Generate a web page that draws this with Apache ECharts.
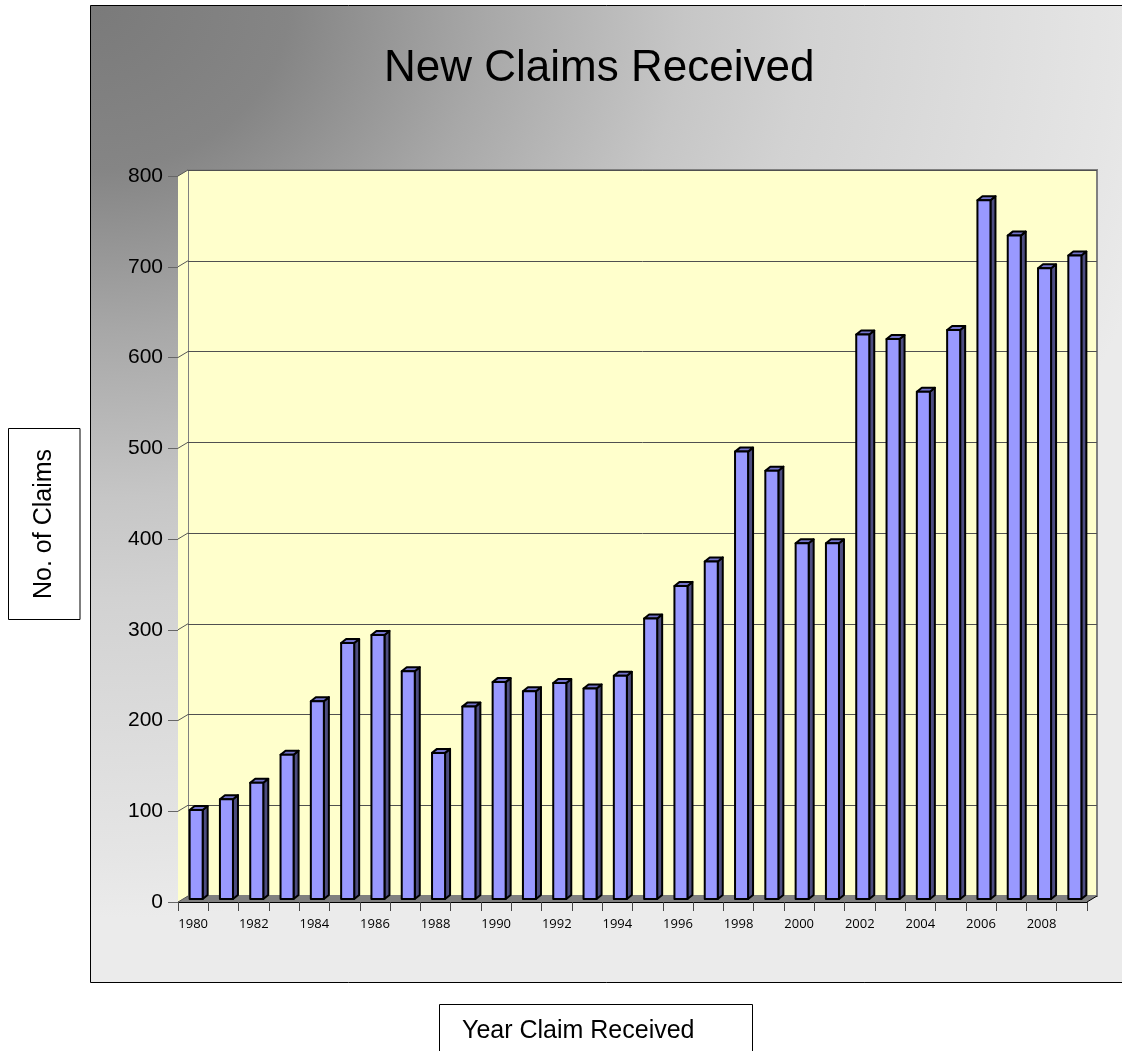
<!DOCTYPE html>
<html>
<head>
<meta charset="utf-8">
<title>New Claims Received</title>
<script src="https://cdn.jsdelivr.net/npm/echarts@6/dist/echarts.min.js"></script>
<style>
html, body { margin: 0; padding: 0; background: #fff; }
#chart { width: 1122px; height: 1051px; }
</style>
</head>
<body>
<div id="chart"></div>
<script>
// values
var years = ['1980', '1981', '1982', '1983', '1984', '1985', '1986', '1987', '1988', '1989',
             '1990', '1991', '1992', '1993', '1994', '1995', '1996', '1997', '1998', '1999',
             '2000', '2001', '2002', '2003', '2004', '2005', '2006', '2007', '2008', '2009'];
var claims = [98, 110, 128, 159, 218, 282, 291, 251, 161, 212,
              239, 229, 238, 232, 246, 309, 345, 372, 493, 472,
              392, 392, 622, 617, 559, 627, 770, 731, 695, 709];
var yTicks = [0, 100, 200, 300, 400, 500, 600, 700, 800];

// fake 3d (pixels)
var WALL_DX = 10, WALL_DY = -6;
var BAR_DX = 3, BAR_DY = -3, BAR_DEPTH_X = 5, BAR_DEPTH_Y = -4;
var BAR_RATIO = 0.43;

var chart = echarts.init(document.getElementById('chart'));

// side wall, floor and the little slanted tick lines
function frameItem(params, api) {
    var v = api.value(1);
    var half = api.size([1, 0])[0] / 2;
    var p = api.coord([0, v]);
    var xl = p[0] - half;
    var kids = [];
    if (params.dataIndex === 0) {
        var top = api.coord([0, yTicks[yTicks.length - 1]]);
        var xr = api.coord([years.length - 1, 0])[0] + half;
        kids.push({
            type: 'polygon',
            shape: { points: [[xl, top[1]], [xl + WALL_DX, top[1] + WALL_DY], [xl + WALL_DX, p[1] + WALL_DY], [xl, p[1]]] },
            style: { fill: '#ffffcc' }
        });
        kids.push({
            type: 'polygon',
            shape: { points: [[xl, p[1]], [xr, p[1]], [xr + WALL_DX, p[1] + WALL_DY], [xl + WALL_DX, p[1] + WALL_DY]] },
            style: { fill: '#808080' }
        });
        kids.push({
            type: 'line',
            shape: { x1: xr, y1: p[1], x2: xr + WALL_DX, y2: p[1] + WALL_DY },
            style: { stroke: '#000', lineWidth: 1 }
        });
    }
    kids.push({
        type: 'line',
        shape: { x1: xl, y1: p[1], x2: xl + WALL_DX, y2: p[1] + WALL_DY },
        style: { stroke: '#555', lineWidth: 1 }
    });
    return { type: 'group', children: kids };
}

function barItem(params, api) {
    var idx = api.value(0), v = api.value(1);
    var top = api.coord([idx, v]), base = api.coord([idx, 0]);
    var w = api.size([1, 0])[0] * BAR_RATIO;
    var x0 = top[0] - w / 2 + BAR_DX, x1 = x0 + w;
    var y0 = top[1] + BAR_DY, y1 = base[1] + BAR_DY;
    var dx = BAR_DEPTH_X, dy = BAR_DEPTH_Y;
    var edge = { stroke: '#000', lineWidth: 2, lineJoin: 'round' };
    return {
        type: 'group',
        children: [
            { type: 'polygon', shape: { points: [[x1, y0], [x1 + dx, y0 + dy], [x1 + dx, y1 + dy], [x1, y1]] },
              style: Object.assign({ fill: '#4d4d80' }, edge) },
            { type: 'polygon', shape: { points: [[x0, y0], [x1, y0], [x1 + dx, y0 + dy], [x0 + dx, y0 + dy]] },
              style: Object.assign({ fill: '#7373cc' }, edge) },
            { type: 'rect', shape: { x: x0, y: y0, width: w, height: y1 - y0 },
              style: Object.assign({ fill: '#9999ff' }, edge) }
        ]
    };
}

// background box: gradient from the top-left corner, a bit faster downwards
var BG_SCALE_Y = 0.83;

chart.setOption({
    backgroundColor: '#fff',
    animation: false,
    title: {
        text: 'New Claims Received',
        left: 384,
        top: 47,
        padding: 0,
        textStyle: { fontFamily: 'Liberation Sans', fontSize: 44, fontWeight: 'normal', color: '#000' }
    },
    graphic: [
        {
            type: 'rect', z: -100, x: 90.5, y: 5.5, scaleY: BG_SCALE_Y,
            shape: { x: 0, y: 0, width: 1100, height: 977 / BG_SCALE_Y },
            style: {
                fill: new echarts.graphic.RadialGradient(0, 0, 1100, [
                    { offset: 0, color: '#7a7a7a' },
                    { offset: 0.18, color: '#858585' },
                    { offset: 0.36, color: '#a8a8a8' },
                    { offset: 0.54, color: '#c6c6c6' },
                    { offset: 0.65, color: '#d2d2d2' },
                    { offset: 0.93, color: '#e5e5e5' },
                    { offset: 1, color: '#ebebeb' }
                ], true),
                stroke: null
            }
        },
        {
            type: 'rect', z: -99,
            shape: { x: 90.5, y: 5.5, width: 1100, height: 977 },
            style: { fill: null, stroke: '#000', lineWidth: 1 }
        },
        {
            type: 'rect', z: 100,
            shape: { x: 8.5, y: 428.5, width: 71.5, height: 191 },
            style: { fill: '#fff', stroke: '#000', lineWidth: 1 }
        },
        {
            type: 'text', z: 101, x: 44, y: 524, rotation: Math.PI / 2,
            style: { text: 'No. of Claims', fontFamily: 'Liberation Sans', fontSize: 25, fill: '#000',
                     align: 'center', verticalAlign: 'middle' }
        },
        {
            type: 'rect', z: 100,
            shape: { x: 439.5, y: 1004.5, width: 313, height: 60 },
            style: { fill: '#fff', stroke: '#000', lineWidth: 1 }
        },
        {
            type: 'text', z: 101, x: 462, y: 1031,
            style: { text: 'Year Claim Received', fontFamily: 'Liberation Sans', fontSize: 25, fill: '#000',
                     align: 'left', verticalAlign: 'middle' }
        }
    ],
    grid: [
        // back wall
        { left: 188, top: 170, width: 909, height: 726, show: true,
          backgroundColor: '#ffffcc', borderColor: '#808080', borderWidth: 2 },
        // front plane
        { left: 178, top: 176, width: 909, height: 726 }
    ],
    xAxis: [
        { gridIndex: 0, type: 'category', data: years, show: false },
        {
            gridIndex: 1, type: 'category', data: years,
            axisLine: { show: true, lineStyle: { color: '#000', width: 1 } },
            axisTick: { show: true, interval: 0, length: 9, lineStyle: { color: '#444' } },
            axisLabel: { show: true, interval: 1, margin: 16, fontFamily: 'Open Sans', fontSize: 13, color: '#000' },
            splitLine: { show: false }
        }
    ],
    yAxis: [
        {
            gridIndex: 0, type: 'value', min: 0, max: 800, interval: 100,
            axisLine: { show: false }, axisTick: { show: false }, axisLabel: { show: false },
            splitLine: { show: true, lineStyle: { color: '#505050', width: 1 } }
        },
        {
            gridIndex: 1, type: 'value', min: 0, max: 800, interval: 100,
            axisLine: { show: true, lineStyle: { color: '#000', width: 1 } },
            axisTick: { show: true, length: 10, lineStyle: { color: '#666' } },
            axisLabel: { margin: 15, fontFamily: 'Liberation Sans', fontSize: 21, color: '#000',
                         formatter: function (v) { return String(v); } },
            splitLine: { show: false }
        }
    ],
    series: [
        {
            type: 'custom', name: 'frame', xAxisIndex: 1, yAxisIndex: 1, silent: true, z: 1,
            renderItem: frameItem,
            data: yTicks.map(function (v) { return [0, v]; })
        },
        {
            type: 'custom', name: 'New Claims', xAxisIndex: 1, yAxisIndex: 1, silent: true, z: 3,
            renderItem: barItem,
            data: claims.map(function (v, i) { return [i, v]; })
        }
    ]
});
</script>
</body>
</html>
